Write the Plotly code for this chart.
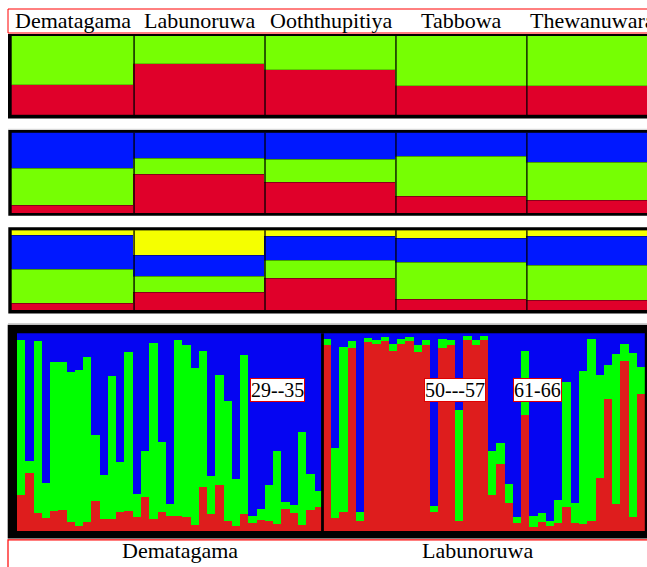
import plotly.graph_objects as go

W, H = 647, 567

# ---------------- data ----------------
populations = ["Dematagama", "Labunoruwa", "Ooththupitiya", "Tabbowa", "Thewanuwara"]

# K = 2 (population averages)
k2_red = [0.38, 0.64, 0.575, 0.37, 0.37]
k2_green = [0.62, 0.36, 0.425, 0.63, 0.63]

# K = 3
k3_red = [0.09, 0.48, 0.38, 0.20, 0.16]
k3_green = [0.46, 0.20, 0.28, 0.50, 0.47]
k3_blue = [0.45, 0.32, 0.34, 0.30, 0.37]

# K = 4
k4_red = [0.09, 0.23, 0.40, 0.14, 0.13]
k4_green = [0.425, 0.20, 0.22, 0.46, 0.43]
k4_blue = [0.425, 0.26, 0.30, 0.30, 0.36]
k4_yellow = [0.06, 0.31, 0.08, 0.10, 0.08]

# Individual membership (K = 3), two populations
group_names = ["Dematagama", "Labunoruwa"]
group_sizes = [37, 39]

ind_red = [0.185, 0.294, 0.092, 0.066, 0.104, 0.109, 0.049, 0.025, 0.047, 0.151,
           0.064, 0.064, 0.096, 0.104, 0.074, 0.173, 0.064, 0.099, 0.079, 0.079,
           0.071, 0.034, 0.224, 0.089, 0.234, 0.054, 0.025, 0.086, 0.042, 0.059,
           0.050, 0.037, 0.113, 0.092, 0.030, 0.109, 0.121,
           0.941, 0.067, 0.096, 0.924, 0.054, 0.955, 0.945, 0.961, 0.911, 0.945,
           0.961, 0.903, 0.941, 0.096, 0.923, 0.938, 0.050, 0.966, 0.938, 0.963,
           0.182, 0.341, 0.143, 0.040, 0.585, 0.020, 0.047, 0.029, 0.040, 0.121,
           0.040, 0.035, 0.052, 0.271, 0.669, 0.138, 0.860, 0.072, 0.691]
ind_green = [0.781, 0.059, 0.869, 0.178, 0.748, 0.745, 0.754, 0.787, 0.832, 0.335,
             0.222, 0.718, 0.254, 0.800, 0.114, 0.232, 0.886, 0.351, 0.059, 0.887,
             0.869, 0.790, 0.684, 0.188, 0.553, 0.601, 0.239, 0.805, 0.035, 0.055,
             0.182, 0.366, 0.033, 0.039, 0.470, 0.181, 0.082,
             0.029, 0.353, 0.832, 0.036, 0.042, 0.020, 0.021, 0.019, 0.034, 0.025,
             0.019, 0.035, 0.022, 0.033, 0.048, 0.028, 0.562, 0.017, 0.025, 0.020,
             0.225, 0.103, 0.097, 0.034, 0.326, 0.057, 0.045, 0.025, 0.120, 0.630,
             0.103, 0.772, 0.919, 0.516, 0.170, 0.758, 0.085, 0.827, 0.138]

highlight_labels = ["29--35", "50---57", "61-66"]
highlight_first = [29, 50, 61]
highlight_last = [35, 57, 66]

# ---------------- styling ----------------
RED, GREEN, BLUE, YELLOW = "#E0002A", "#76FF03", "#0018FF", "#F5FF00"
IRED, IGREEN, IBLUE = "#DE1D1D", "#00FF00", "#0505F2"
FONT = "Liberation Serif, Times New Roman, serif"


def py(px):
    return 1 - px / H


def px_x(px):
    return px / W


pop_x = list(range(len(populations)))
ind_x = list(range(sum(group_sizes)))
ind_blue = [1 - r - g for r, g in zip(ind_red, ind_green)]

fig = go.Figure()
edge = dict(color="rgba(0,0,0,0.35)", width=0.6)


def add_bar(x, y, color, ax, line=None):
    fig.add_trace(go.Bar(
        x=x, y=y, marker=dict(color=color, line=line or dict(width=0)),
        xaxis="x" + ax, yaxis="y" + ax, showlegend=False, hoverinfo="skip",
    ))


add_bar(pop_x, k2_red, RED, "", edge)
add_bar(pop_x, k2_green, GREEN, "", edge)
add_bar(pop_x, k3_red, RED, "2", edge)
add_bar(pop_x, k3_green, GREEN, "2", edge)
add_bar(pop_x, k3_blue, BLUE, "2", edge)
add_bar(pop_x, k4_red, RED, "3", edge)
add_bar(pop_x, k4_green, GREEN, "3", edge)
add_bar(pop_x, k4_blue, BLUE, "3", edge)
add_bar(pop_x, k4_yellow, YELLOW, "3", edge)
add_bar(ind_x, ind_red, IRED, "4")
add_bar(ind_x, ind_green, IGREEN, "4")
add_bar(ind_x, ind_blue, IBLUE, "4")

pop_range = [-0.435, 4.417]
panel_inner = [(36, 115), (132.7, 213.3), (230.3, 310.3), (333.3, 531.7)]
ax_common = dict(visible=False, fixedrange=True)
layout_axes = {}
for i, (top, bot) in enumerate(panel_inner):
    sfx = "" if i == 0 else str(i + 1)
    if i < 3:
        xdom = [px_x(11.7), 1]
        xr = pop_range
    else:
        xdom = [px_x(16.7), px_x(644.8)]
        xr = [-0.5, len(ind_x) - 0.5]
    layout_axes["xaxis" + sfx] = dict(domain=xdom, range=xr,
                                      anchor="y" + sfx, **ax_common)
    layout_axes["yaxis" + sfx] = dict(domain=[py(bot), py(top)], range=[0, 1],
                                      anchor="x" + sfx, **ax_common)

shapes = []
# header box
shapes.append(dict(type="rect", xref="paper", yref="paper", layer="below",
                   x0=px_x(8), x1=1.05, y0=py(33), y1=py(9),
                   fillcolor="white", line=dict(color="#FF0000", width=1)))
# bottom label box
shapes.append(dict(type="rect", xref="paper", yref="paper", layer="below",
                   x0=px_x(8), x1=1.05, y0=py(600), y1=py(539.8),
                   fillcolor="white", line=dict(color="#FF0000", width=1.2)))
# light grey separators
for gy in (129.3, 323.5):
    shapes.append(dict(type="line", xref="paper", yref="paper", layer="below",
                       x0=px_x(8), x1=1, y0=py(gy), y1=py(gy),
                       line=dict(color="#D0D0D0", width=1)))
# black frames
frames = [(8, 34, 118.5), (8.3, 130, 215.8), (8.3, 227.3, 313.4), (7.7, 324.8, 538.4)]
for x0, t, b in frames:
    shapes.append(dict(type="rect", xref="paper", yref="paper", layer="below",
                       x0=px_x(x0), x1=1.05, y0=py(b), y1=py(t),
                       fillcolor="black", line=dict(width=0)))
# population dividers in the three summary panels
for sfx in ("", "2", "3"):
    for i in range(len(populations) - 1):
        shapes.append(dict(type="line", xref="x" + sfx, yref="y" + sfx + " domain",
                           x0=i + 0.5, x1=i + 0.5, y0=0, y1=1,
                           line=dict(color="black", width=1.2)))
# divider between the two populations in the individual panel
shapes.append(dict(type="line", xref="x4", yref="y4 domain",
                   x0=group_sizes[0] - 0.5, x1=group_sizes[0] - 0.5, y0=0, y1=1,
                   line=dict(color="black", width=2.8)))

annotations = []
for i, name in enumerate(populations):
    cx = (max(i - 0.5, pop_range[0]) + (i + 0.5)) / 2
    annotations.append(dict(text=name, x=cx, xref="x", y=py(20.5), yref="paper",
                            showarrow=False, xanchor="center", yanchor="middle",
                            font=dict(family=FONT, size=22, color="black")))

bottom_centers = [180, 477.5]
for name, cx in zip(group_names, bottom_centers):
    annotations.append(dict(text=name, x=px_x(cx), xref="paper", y=py(550), yref="paper",
                            showarrow=False, xanchor="center", yanchor="middle",
                            font=dict(family=FONT, size=22, color="black")))

for lab, a, b in zip(highlight_labels, highlight_first, highlight_last):
    annotations.append(dict(text=lab, x=(a + b) / 2 - 1, xref="x4", y=0.714, yref="y4",
                            showarrow=False, xanchor="center", yanchor="middle",
                            bgcolor="white", bordercolor="#E00000", borderwidth=1,
                            borderpad=0,
                            font=dict(family=FONT, size=20, color="black")))

fig.update_layout(
    width=W, height=H, autosize=False,
    margin=dict(l=0, r=0, t=0, b=0, pad=0),
    paper_bgcolor="white", plot_bgcolor="rgba(0,0,0,0)",
    barmode="stack", bargap=0, showlegend=False,
    shapes=shapes, annotations=annotations,
    **layout_axes,
)

fig.write_html(
    "out.html",
    config=dict(displayModeBar=False),
    post_script="document.body.style.margin='0';document.body.style.overflow='hidden';",
)
